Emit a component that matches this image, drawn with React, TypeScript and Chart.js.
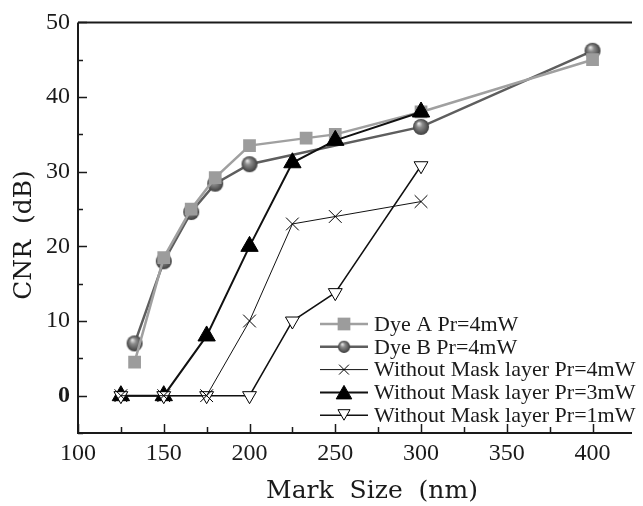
import React, { useEffect, useRef } from 'react';
import { Chart, registerables } from 'chart.js';

Chart.register(...registerables);

// ---- data ----
const seriesLabels = [
  'Dye A Pr=4mW',
  'Dye B Pr=4mW',
  'Without Mask layer Pr=4mW',
  'Without Mask layer Pr=3mW',
  'Without Mask layer Pr=1mW',
];
const xDyeA = [133, 150, 166, 180, 200, 233, 250, 300, 400];
const yDyeA = [4.5, 18.5, 25, 29.2, 33.5, 34.5, 35, 38, 45];
const xDyeB = [133, 150, 166, 180, 200, 300, 400];
const yDyeB = [7, 18, 24.6, 28.4, 31, 36, 46.2];
const xNoMask = [125, 150, 175, 200, 225, 250, 300];
const yNoMask4 = [0, 0, 0, 10, 23, 24, 26];
const yNoMask3 = [0, 0, 8, 20, 31.2, 34.2, 38];
const yNoMask1 = [0, 0, 0, 0, 10, 13.8, 30.8];

const xMin = 100;
const xMax = 423;
const xStep = 25;
const xLabelStep = 50;
const yMin = -5;
const yMax = 50;
const yStep = 5;
const yLabelStep = 10;

const xTitle = 'Mark  Size  (nm)';
const yTitle = 'CNR  (dB)';

const toPts = (xs: number[], ys: number[]) => xs.map((x, i) => ({ x, y: ys[i] }));

function makeSphere(r: number): HTMLCanvasElement {
  const c = document.createElement('canvas');
  const s = Math.ceil(r * 2) + 2;
  c.width = s;
  c.height = s;
  const g = c.getContext('2d')!;
  const cx = s / 2, cy = s / 2;
  const grad = g.createRadialGradient(cx - r * 0.3, cy - r * 0.45, r * 0.05, cx, cy, r);
  grad.addColorStop(0, '#e8e8e8');
  grad.addColorStop(0.35, '#8c8c8c');
  grad.addColorStop(1, '#3e3e3e');
  g.fillStyle = grad;
  g.beginPath();
  g.arc(cx, cy, r, 0, Math.PI * 2);
  g.fill();
  return c;
}

type MarkerKind = 'square' | 'sphere' | 'cross' | 'triUp' | 'triDown';
const legendMarkers: MarkerKind[] = ['square', 'sphere', 'cross', 'triUp', 'triDown'];

function drawMarker(ctx: CanvasRenderingContext2D, kind: MarkerKind, x: number, y: number, r: number, color: string, sphere: HTMLCanvasElement) {
  ctx.save();
  switch (kind) {
    case 'square': {
      const h = r * Math.SQRT1_2;
      ctx.fillStyle = color;
      ctx.fillRect(x - h, y - h, 2 * h, 2 * h);
      break;
    }
    case 'sphere': {
      const s = r * 2;
      ctx.drawImage(sphere, x - s / 2, y - s / 2, s, s);
      break;
    }
    case 'cross': {
      const d = r * Math.SQRT1_2;
      ctx.strokeStyle = '#000';
      ctx.lineWidth = 1;
      ctx.beginPath();
      ctx.moveTo(x - d, y - d); ctx.lineTo(x + d, y + d);
      ctx.moveTo(x - d, y + d); ctx.lineTo(x + d, y - d);
      ctx.stroke();
      break;
    }
    case 'triUp':
    case 'triDown': {
      const sgn = kind === 'triUp' ? 1 : -1;
      ctx.beginPath();
      ctx.moveTo(x, y - sgn * r);
      ctx.lineTo(x + r * Math.sin(Math.PI / 3), y + sgn * r / 2);
      ctx.lineTo(x - r * Math.sin(Math.PI / 3), y + sgn * r / 2);
      ctx.closePath();
      ctx.fillStyle = kind === 'triUp' ? '#000' : '#fff';
      ctx.fill();
      ctx.strokeStyle = '#000';
      ctx.lineWidth = 1;
      ctx.stroke();
      break;
    }
  }
  ctx.restore();
}

export default function App() {
  const ref = useRef<HTMLCanvasElement | null>(null);

  useEffect(() => {
    if (!ref.current) return;
    const sphere = makeSphere(8);
    const sphereLegend = makeSphere(7);

    const framePlugin = {
      id: 'frameAndLegend',
      afterDraw(chart: any) {
        const { ctx, chartArea: a, scales } = chart;
        const xs = scales.x;
        const ys = scales.y;
        ctx.save();
        // axis frame
        ctx.strokeStyle = '#1a1a1a';
        ctx.lineWidth = 2;
        ctx.beginPath();
        ctx.moveTo(a.left, a.top);
        ctx.lineTo(a.right, a.top);
        ctx.moveTo(a.left, a.top);
        ctx.lineTo(a.left, a.bottom);
        ctx.lineTo(a.right, a.bottom);
        ctx.stroke();
        // inward ticks
        ctx.lineWidth = 1.5;
        ctx.beginPath();
        xs.ticks.forEach((t: any) => {
          const px = Math.round(xs.getPixelForValue(t.value)) + 0.5;
          const len = t.value % xLabelStep === 0 ? 9 : 6;
          ctx.moveTo(px, a.bottom);
          ctx.lineTo(px, a.bottom - len);
        });
        ys.ticks.forEach((t: any) => {
          const py = Math.round(ys.getPixelForValue(t.value)) + 0.5;
          const len = t.value % yLabelStep === 0 ? 9 : 5;
          ctx.moveTo(a.left, py);
          ctx.lineTo(a.left + len, py);
        });
        ctx.stroke();

        // axis titles
        ctx.fillStyle = '#1a1a1a';
        ctx.font = '25px "DejaVu Serif"';
        ctx.textAlign = 'center';
        ctx.textBaseline = 'alphabetic';
        ctx.fillText(xTitle, 372, 498);
        ctx.save();
        ctx.translate(31, 235);
        ctx.rotate(-Math.PI / 2);
        ctx.fillText(yTitle, 0, 0);
        ctx.restore();

        // legend
        const lx0 = 320, lx1 = 368, tx = 374, ty0 = 324, dy = 22.8;
        ctx.font = '22px "Liberation Serif"';
        ctx.textAlign = 'left';
        ctx.textBaseline = 'middle';
        chart.data.datasets.forEach((ds: any, i: number) => {
          const y = ty0 + i * dy;
          ctx.strokeStyle = ds.borderColor;
          ctx.lineWidth = ds.borderWidth;
          ctx.beginPath();
          ctx.moveTo(lx0, y);
          ctx.lineTo(lx1, y);
          ctx.stroke();
          const kind = legendMarkers[i];
          const r = kind === 'square' ? 9 : kind === 'triUp' ? 9 : 7;
          drawMarker(ctx, kind, (lx0 + lx1) / 2, kind.startsWith('tri') ? y + (kind === 'triUp' ? 2 : -2) : y, r, ds.pointBackgroundColor, sphereLegend);
          ctx.fillStyle = '#1a1a1a';
          ctx.fillText(ds.label, tx, y + 1);
        });
        ctx.restore();
      },
    };

    const chart = new Chart(ref.current, {
      type: 'line',
      data: {
        datasets: [
          {
            label: seriesLabels[0],
            data: toPts(xDyeA, yDyeA),
            borderColor: '#a0a0a0',
            borderWidth: 2.5,
            pointStyle: 'rect',
            pointRadius: 9,
            pointBackgroundColor: '#9c9c9c',
            pointBorderColor: '#9c9c9c',
            pointBorderWidth: 0,
            order: 3,
          },
          {
            label: seriesLabels[1],
            data: toPts(xDyeB, yDyeB),
            borderColor: '#5e5e5e',
            borderWidth: 2.5,
            pointStyle: sphere,
            pointRadius: 8,
            pointBackgroundColor: '#6a6a6a',
            pointBorderColor: '#6a6a6a',
            order: 4,
          },
          {
            label: seriesLabels[2],
            data: toPts(xNoMask, yNoMask4),
            borderColor: '#111',
            borderWidth: 1,
            pointStyle: 'crossRot',
            pointRadius: 9,
            pointBorderWidth: 1,
            pointBackgroundColor: '#000',
            pointBorderColor: '#000',
            order: 0,
          },
          {
            label: seriesLabels[3],
            data: toPts(xNoMask, yNoMask3),
            borderColor: '#111',
            borderWidth: 2,
            pointStyle: 'triangle',
            pointRadius: 10,
            pointBorderWidth: 1,
            pointBackgroundColor: '#000',
            pointBorderColor: '#000',
            order: 2,
          },
          {
            label: seriesLabels[4],
            data: toPts(xNoMask, yNoMask1),
            borderColor: '#111',
            borderWidth: 1.5,
            pointStyle: 'triangle',
            pointRotation: 180,
            pointRadius: 8,
            pointBorderWidth: 1,
            pointBackgroundColor: '#fff',
            pointBorderColor: '#000',
            order: 1,
          },
        ] as any,
      },
      options: {
        animation: false,
        responsive: false,
        devicePixelRatio: 1,
        layout: { padding: { top: 15, right: 0, left: 0, bottom: 0 } },
        plugins: {
          legend: { display: false },
          tooltip: { enabled: false },
          title: { display: false },
        },
        elements: { line: { tension: 0 } },
        scales: {
          x: {
            type: 'linear',
            min: xMin,
            max: xMax,
            grid: { display: false, drawTicks: false },
            border: { display: false },
            afterFit: (s: any) => { s.height = 73; },
            ticks: {
              stepSize: xStep,
              includeBounds: false,
              autoSkip: false,
              maxRotation: 0,
              padding: 6,
              color: '#1a1a1a',
              font: { family: '"Liberation Serif"', size: 24 },
              callback: (v: any) => (Number(v) % xLabelStep === 0 ? String(v) : ''),
            },
          },
          y: {
            type: 'linear',
            min: yMin,
            max: yMax,
            grid: { display: false, drawTicks: false },
            border: { display: false },
            afterFit: (s: any) => { s.width = 78; },
            ticks: {
              stepSize: yStep,
              autoSkip: false,
              padding: 8,
              color: '#1a1a1a',
              font: (c: any) => ({
                family: '"Liberation Serif"',
                size: 24,
                weight: c.tick && c.tick.value === 0 ? 'bold' : 'normal',
              }),
              callback: (v: any) => (Number(v) % yLabelStep === 0 ? String(v) : ''),
            },
          },
        },
      } as any,
      plugins: [framePlugin],
    });
    return () => chart.destroy();
  }, []);

  return (
    <div style={{ position: 'fixed', left: 0, top: 0, width: 643, height: 506, background: '#fff' }}>
      <canvas ref={ref} width={643} height={506} style={{ width: 643, height: 506, display: 'block' }} />
    </div>
  );
}
